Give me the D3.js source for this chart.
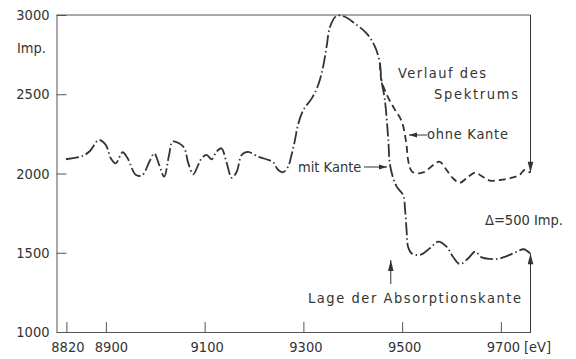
<!DOCTYPE html>
<html><head><meta charset="utf-8">
<script src="https://cdn.jsdelivr.net/npm/d3@7"></script>
<style>
html,body{margin:0;padding:0;background:#fff;}
svg{display:block;}
</style></head>
<body>
<svg id="chart" width="576" height="359"></svg>
<script>
// ---- data ----
const xTicks = [8820, 8900, 9100, 9300, 9500, 9700];
const yTicks = [1000, 1500, 2000, 2500, 3000];

// common part of the spectrum (up to the branching point)
const commonEnergy = [8819,8849,8866,8883,8888,8900,8910,8920,8934,8944,8961,8974,8988,8998,9008,9018,9028,9035,9048,9059,9067,9077,9087,9094,9104,9114,9124,9134,9144,9155,9165,9175,9188,9208,9225,9239,9249,9259,9269,9276,9283,9289,9300,9317,9330,9340,9347,9354,9367,9384,9404,9428,9445,9455,9458];
const commonCounts = [2090,2106,2137,2207,2211,2180,2096,2064,2134,2096,1990,1990,2074,2127,2054,1980,2117,2201,2191,2159,2064,1995,2054,2096,2117,2090,2137,2159,2074,1973,2011,2117,2137,2106,2090,2071,2022,2008,2043,2117,2211,2306,2401,2474,2558,2674,2800,2926,2994,2989,2947,2884,2800,2695,2590];

// "mit Kante" branch
const mitEnergy = [9465,9472,9475,9481,9489,9502,9506,9509,9512,9519,9536,9556,9573,9590,9603,9617,9634,9648,9661,9678,9695,9712,9733,9746,9759];
const mitCounts = [2464,2211,2064,1980,1917,1864,1770,1643,1538,1497,1486,1528,1570,1538,1475,1429,1465,1507,1471,1461,1462,1479,1507,1522,1497];

// "ohne Kante" branch
const ohneEnergy = [9470,9484,9499,9508,9513,9520,9533,9546,9563,9576,9590,9603,9617,9634,9648,9661,9678,9698,9718,9738,9748,9759];
const ohneCounts = [2490,2410,2330,2200,2070,2012,2001,2011,2054,2074,2022,1970,1942,1980,2005,1984,1955,1959,1970,1991,2022,2005];

const edgeEnergy = 9477; // Lage der Absorptionskante

// ---- chart ----
const FONT = "'DejaVu Sans Condensed','DejaVu Sans',sans-serif";
const INK = "#333";
const FS = 14.5;
const svg = d3.select("#chart");

const x = d3.scaleLinear().domain([8800, 9760]).range([56.5, 530.5]);
const y = d3.scaleLinear().domain([1000, 3000]).range([332, 15]);

const zip = (e, c) => e.map((v, i) => [v, c[i]]);
const common = zip(commonEnergy, commonCounts);
const mit = common.concat(zip(mitEnergy, mitCounts));
const ohne = [common[common.length - 2], common[common.length - 1]].concat(zip(ohneEnergy, ohneCounts));

// axes
const gx = svg.append("g")
  .attr("transform", `translate(0,${y(1000)})`)
  .call(d3.axisBottom(x).tickValues(xTicks).tickSize(-10).tickSizeOuter(0)
        .tickPadding(10).tickFormat(d3.format("d")));
const gy = svg.append("g")
  .attr("transform", `translate(${x(8800)},0)`)
  .call(d3.axisLeft(y).tickValues(yTicks).tickSize(-10).tickSizeOuter(0)
        .tickPadding(7).tickFormat(d3.format("d")));
[gx, gy].forEach(g => {
  g.attr("font-family", FONT).attr("font-size", FS);
  g.selectAll("path,line").attr("stroke", "#555").attr("stroke-width", 1);
  g.selectAll("text").attr("fill", INK);
});
gx.selectAll(".tick text").attr("dx", d => d === 8820 ? 1 : (d === 8900 ? 5 : 2));

// frame top
svg.append("line").attr("x1", x(8800)).attr("x2", x(9760))
  .attr("y1", y(3000)).attr("y2", y(3000)).attr("stroke", "#555").attr("stroke-width", 1);

function arrow(x1, y1, x2, y2, len = 10, hw = 2.8, sw = 1) {
  svg.append("line").attr("x1", x1).attr("y1", y1).attr("x2", x2).attr("y2", y2)
    .attr("stroke", INK).attr("stroke-width", sw);
  const a = Math.atan2(y2 - y1, x2 - x1);
  const bx = x2 - len * Math.cos(a), by = y2 - len * Math.sin(a);
  const px = -Math.sin(a) * hw, py = Math.cos(a) * hw;
  svg.append("path")
    .attr("d", `M${x2},${y2}L${bx + px},${by + py}L${bx - px},${by - py}Z`)
    .attr("fill", INK);
}

// right-side Δ arrows
const xr = x(9760);
arrow(xr, y(3000), xr, y(ohneCounts[ohneCounts.length - 1]), 11, 2.8);
arrow(xr, y(1000), xr, y(mitCounts[mitCounts.length - 1]), 11, 2.8);

// curves
const line = d3.line().x(d => x(d[0])).y(d => y(d[1])).curve(d3.curveCatmullRom.alpha(0.5));
svg.append("path").attr("d", line(mit)).attr("fill", "none")
  .attr("stroke", INK).attr("stroke-width", 1.8).attr("stroke-dasharray", "13,3,1.5,3");
svg.append("path").attr("d", line(ohne)).attr("fill", "none")
  .attr("stroke", INK).attr("stroke-width", 1.8).attr("stroke-dasharray", "7,4");

// texts
function label(t, tx, ty, len) {
  const el = svg.append("text").attr("x", tx).attr("y", ty).text(t)
    .attr("font-family", FONT).attr("font-size", FS).attr("fill", INK);
  if (len) el.attr("textLength", len).attr("lengthAdjust", "spacing");
  return el;
}
label("Imp.", 17, 53);
label("Verlauf des", 398, 78, 88);
label("Spektrums", 434, 99, 84);
label("ohne Kante", 427, 139, 81);
label("mit Kante", 298, 172);
label("\u0394=500 Imp.", 485, 225);
label("Lage der Absorptionskante", 308, 303, 213);
label("[eV]", 524, 352);

// annotation arrows
arrow(427, 135, 409, 135, 8, 2.5);
arrow(364, 167, 387, 167, 8, 2.5);
arrow(x(edgeEnergy), 284, x(edgeEnergy), 260, 11, 2.8);
</script>
</body></html>
